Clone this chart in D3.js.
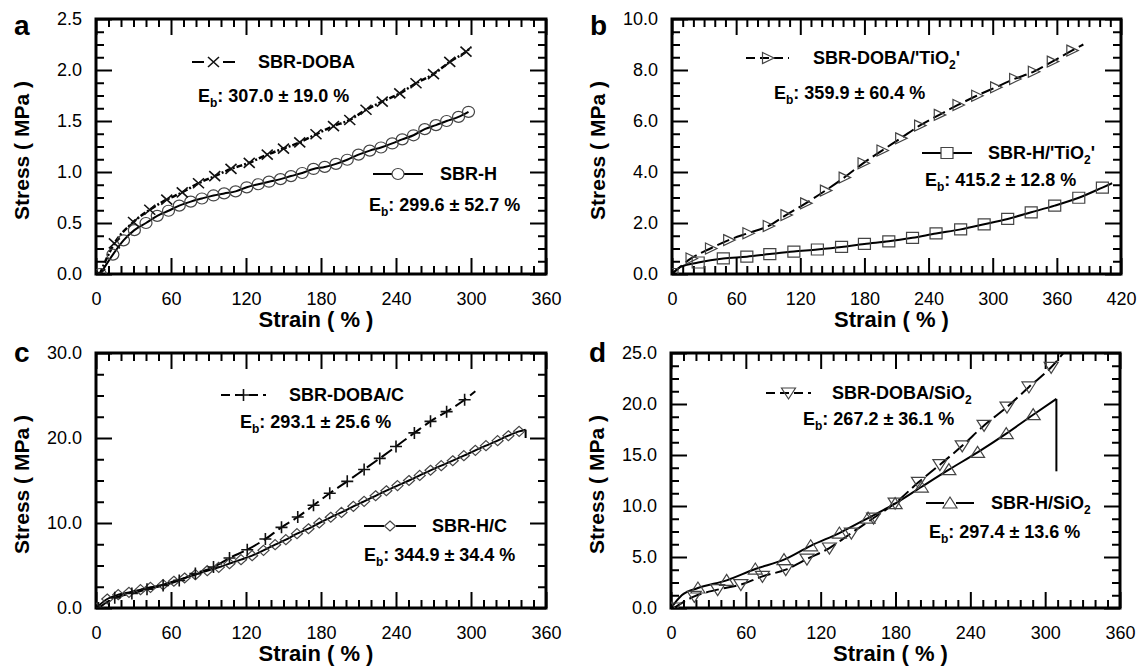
<!DOCTYPE html>
<html lang="en">
<head>
<meta charset="utf-8">
<title>Stress-strain curves</title>
<script src="https://cdn.jsdelivr.net/npm/d3@7/dist/d3.min.js"></script>
<style>
  body { margin: 0; background: #fff; }
  svg text { font-family: "Liberation Sans", Arial, sans-serif; fill: #000; }
</style>
</head>
<body>
<script>
var w = 1148, h = 671;

// [strain %, stress MPa, (0 = no marker)]
var dobaA = [[3,0],[14.7,0.30],[30,0.51],[43,0.63],[56.6,0.73],[69,0.80],[82,0.89],[95,0.96],[108,1.03],[122.6,1.09],[137,1.17],[150,1.23],[163,1.29],[176,1.37],[190,1.45],[203,1.51],[216,1.61],[229,1.69],[243,1.77],[256,1.87],[270,1.96],[283,2.08],[296,2.18],[300,2.22,0]];
var hA = [[3.4,0],[13.5,0.19],[22,0.33],[30.7,0.43],[40,0.50],[49,0.57],[58,0.62],[66.6,0.67],[75.8,0.71],[84.7,0.74],[94,0.77],[102.5,0.79],[111.7,0.81],[120.6,0.85],[129.8,0.88],[138.4,0.905],[147.6,0.93],[156,0.96],[165,0.99],[174,1.03],[183,1.05],[192,1.08],[201,1.12],[210,1.17],[219,1.21],[228,1.24],[237,1.28],[245,1.32],[254,1.36],[263,1.42],[272,1.46],[280.5,1.50],[290,1.54],[298,1.59]];

var dobaB = [[0,0,0],[17.8,0.61],[36,1.0],[53,1.33],[71,1.6],[90,1.88],[106.6,2.31],[125,2.77],[143.5,3.27],[161,3.78],[178.7,4.34],[196.4,4.84],[213.9,5.32],[231.6,5.82],[250,6.24],[267.5,6.63],[285,6.99],[302.7,7.32],[320.5,7.65],[338,7.93],[355.7,8.33],[374,8.76],[384.8,9.0,0]];
var hB = [[0,0],[8,0.28,0],[24.5,0.45],[48,0.61],[70,0.68],[91.5,0.78],[114,0.88],[136,0.96],[158.6,1.06],[180,1.18],[202.8,1.28],[225,1.42],[247,1.59],[270,1.75],[292,1.95],[314,2.16],[336,2.42],[358,2.68],[380.5,2.99],[402.6,3.39],[411.7,3.56,0]];

var dobaC = [[2,0],[15,1.2],[28.7,1.7],[40.8,2.2],[53.7,2.65],[66.6,3.25],[79.5,4.05],[94,4.82],[106.8,5.88],[121,6.86],[135.5,8.12],[148.4,9.49],[161.4,10.7],[174,12.08],[187,13.5],[201,14.9],[214.5,16.3],[227,17.6],[240,19.0],[254.7,20.6],[267.6,21.96],[280.5,23.1],[294.9,24.5],[303.5,25.5,0]];
var hC = [[0,0],[9,1.06],[17.8,1.57],[26.4,1.84],[35.6,2.16],[43.6,2.43],[53.7,2.75],[62.3,3.14],[70.9,3.53],[79.5,3.92],[89,4.39],[98.2,4.78],[106.8,5.22],[116,5.69],[124.9,6.16],[134,6.78],[143.3,7.45],[151.9,8.04],[160.8,8.75],[170,9.33],[178.6,10.0],[187.8,10.67],[196.4,11.25],[205.9,11.96],[214.5,12.55],[223.7,13.2],[232.3,13.8],[241.2,14.4],[250.4,15.0],[259,15.6],[267.6,16.2],[276.2,16.75],[285.4,17.33],[294.3,17.92],[303.5,18.55],[312,19.1],[321.3,19.69],[329.9,20.27],[338.5,20.78],[343.7,20.98,0]];
var dropC = [[343.7,20.98],[343.7,20.0]];

var dobaD = [[2.3,0],[18.7,1.14],[37.4,1.8],[56,2.29],[73.3,3.1],[92,3.76],[109,4.8],[127,5.88],[144.6,7.35],[162.4,8.82],[179.7,10.29],[198.4,12.32],[215.6,14.05],[233.5,15.9],[251,17.9],[269.4,19.7],[287,21.67],[304.8,23.6],[316,25.2,0]];
var hD = [[0,0],[8.6,1.25,0],[21.6,1.96],[44.6,2.71],[67.6,3.82],[90.6,4.74],[112,6.1],[135,7.35],[158,8.82],[179.7,10.23],[200.7,11.86],[222.8,13.56],[245.8,15.26],[268.8,17.1],[290.4,18.95],[309,20.5,0]];
var dropD = [[309,20.5],[309,13.4]];

var xMaxes = [360, 420, 360, 360];
var yMaxes = [2.5, 10, 30, 25];
var yMajor = [0.5, 2, 10, 5];
var letters = ["a", "b", "c", "d"];
var dobaNames = [{t:"SBR-DOBA"}, {t:"SBR-DOBA/'TiO", s:"2", a:"'"}, {t:"SBR-DOBA/C"}, {t:"SBR-DOBA/SiO", s:"2"}];
var hNames = [{t:"SBR-H"}, {t:"SBR-H/'TiO", s:"2", a:"'"}, {t:"SBR-H/C"}, {t:"SBR-H/SiO", s:"2"}];
var dobaEb = ["307.0 \u00b1 19.0 %", "359.9 \u00b1 60.4 %", "293.1 \u00b1 25.6 %", "267.2 \u00b1 36.1 %"];
var hEb = ["299.6 \u00b1 52.7 %", "415.2 \u00b1 12.8 %", "344.9 \u00b1 34.4 %", "297.4 \u00b1 13.6 %"];

var svg = d3.select("body").append("svg").attr("width", w).attr("height", h);

// layout of each panel, legend anchors in page pixels
var panels = [
  {x0:96, x1:546, y0:19, y1:274, doba:dobaA, h:hA, dm:"x", hm:"circle", dash:"6,2,2,2",
   lg:{dl:[192,235,62], dt:258, de:[198,96], hl:[373,423,174], ht:440, he:[369,205]}},
  {x0:672, x1:1121, y0:19, y1:274, doba:dobaB, h:hB, dm:"triR", hm:"square", dash:"13,5",
   lg:{dl:[746,789,58], dt:813, de:[774,93], hl:[922,972,153], ht:988, he:[925,180]}},
  {x0:96, x1:546, y0:353, y1:608, doba:dobaC, h:hC, dm:"plus", hm:"diamond", dash:"13,5", drop:dropC,
   lg:{dl:[221,266,395], dt:289, de:[240,422], hl:[364,416,526], ht:432, he:[364,555]}},
  {x0:671, x1:1120, y0:353, y1:608, doba:dobaD, h:hD, dm:"triDown", hm:"triUp", dash:"13,5", drop:dropD,
   lg:{dl:[766,811,393], dt:832, de:[803,419], hl:[926,974,503], ht:991, he:[929,532]}}
];

var markerPaths = {
  x: "M-5.5,-5L5.5,5M-5.5,5L5.5,-5",
  plus: "M-6,0H6M0,-6V6",
  diamond: "M0,-5L5.5,0L0,5L-5.5,0Z",
  square: "M-6,-5.5H6V5.5H-6Z",
  triR: "M-5,-5.5L6.5,0L-5,5.5Z",
  triDown: "M-7,-5H7L0,6Z",
  triUp: "M-7,5H7L0,-6Z"
};

function marker(g, type, cx, cy) {
  if (type == "circle") {
    g.append("ellipse").attr("cx", cx).attr("cy", cy).attr("rx", 6).attr("ry", 5.5)
      .attr("fill", "none").attr("stroke", "#444").attr("stroke-width", 1.2);
  } else {
    var dark = type == "x" || type == "plus";
    g.append("path").attr("d", markerPaths[type])
      .attr("transform", "translate(" + cx + "," + cy + ")")
      .attr("fill", "none").attr("stroke", dark ? "#111" : "#444")
      .attr("stroke-width", dark ? 1.6 : 1.2);
  }
}

function label(g, x, y, name) {
  var t = g.append("text").attr("x", x).attr("y", y).attr("font-size", 18).attr("font-weight", "bold");
  t.append("tspan").text(name.t);
  if (name.s) {
    t.append("tspan").attr("dy", 5).attr("font-size", 12).text(name.s);
    if (name.a) t.append("tspan").attr("dy", -5).text(name.a);
  }
}

function ebText(g, x, y, val) {
  var t = g.append("text").attr("x", x).attr("y", y).attr("font-size", 18).attr("font-weight", "bold");
  t.append("tspan").text("E");
  t.append("tspan").attr("dy", 5).attr("font-size", 12).text("b");
  t.append("tspan").attr("dy", -5).text(": " + val);
}

panels.forEach(function(p, i) {
  var x = d3.scaleLinear().domain([0, xMaxes[i]]).range([p.x0, p.x1]);
  var y = d3.scaleLinear().domain([0, yMaxes[i]]).range([p.y1, p.y0]);
  var g = svg.append("g");

  var clipId = "clip" + i;
  svg.append("clipPath").attr("id", clipId).append("rect")
    .attr("x", p.x0).attr("y", p.y0).attr("width", p.x1 - p.x0).attr("height", p.y1 - p.y0);

  var xMaj = d3.range(0, xMaxes[i] + 0.01, 60);
  var xMin = d3.range(0, xMaxes[i] + 0.01, 10).filter(function(v) { return v % 60 != 0; });
  var yMaj = d3.range(0, yMaxes[i] + 1e-6, yMajor[i]);
  var yMin = d3.range(0, yMaxes[i] + 1e-6, yMajor[i] / 4).filter(function(v) {
    return Math.abs(v / yMajor[i] - Math.round(v / yMajor[i])) > 1e-6;
  });

  function tidy(sel) {
    sel.select(".domain").remove();
    sel.selectAll("line").attr("stroke", "#000").attr("stroke-width", 2);
    sel.attr("font-size", 18).attr("font-family", "'Liberation Sans', Arial, sans-serif");
  }

  // bottom
  g.append("g").attr("transform", "translate(0," + p.y1 + ")")
    .call(d3.axisBottom(x).tickValues(xMaj).tickSize(-16).tickPadding(18).tickFormat(d3.format("d"))).call(tidy);
  g.append("g").attr("transform", "translate(0," + p.y1 + ")")
    .call(d3.axisBottom(x).tickValues(xMin).tickSize(-8).tickFormat("")).call(tidy);
  // top
  g.append("g").attr("transform", "translate(0," + p.y0 + ")")
    .call(d3.axisTop(x).tickValues(xMaj).tickSize(-16).tickFormat("")).call(tidy);
  g.append("g").attr("transform", "translate(0," + p.y0 + ")")
    .call(d3.axisTop(x).tickValues(xMin).tickSize(-8).tickFormat("")).call(tidy);
  // left
  g.append("g").attr("transform", "translate(" + p.x0 + ",0)")
    .call(d3.axisLeft(y).tickValues(yMaj).tickSize(-16).tickPadding(14).tickFormat(d3.format(".1f"))).call(tidy);
  g.append("g").attr("transform", "translate(" + p.x0 + ",0)")
    .call(d3.axisLeft(y).tickValues(yMin).tickSize(-8).tickFormat("")).call(tidy);
  // right
  g.append("g").attr("transform", "translate(" + p.x1 + ",0)")
    .call(d3.axisRight(y).tickValues(yMaj).tickSize(-16).tickFormat("")).call(tidy);
  g.append("g").attr("transform", "translate(" + p.x1 + ",0)")
    .call(d3.axisRight(y).tickValues(yMin).tickSize(-8).tickFormat("")).call(tidy);

  g.append("rect").attr("x", p.x0).attr("y", p.y0).attr("width", p.x1 - p.x0).attr("height", p.y1 - p.y0)
    .attr("fill", "none").attr("stroke", "#000").attr("stroke-width", 3);

  // curves
  var line = d3.line().x(function(d) { return x(d[0]); }).y(function(d) { return y(d[1]); })
    .curve(d3.curveMonotoneX);
  var lines = g.append("g").attr("clip-path", "url(#" + clipId + ")");
  lines.append("path").datum(p.h).attr("d", line)
    .attr("fill", "none").attr("stroke", "#000").attr("stroke-width", 2);
  lines.append("path").datum(p.doba).attr("d", line)
    .attr("fill", "none").attr("stroke", "#000").attr("stroke-width", i == 0 ? 2.5 : 2)
    .attr("stroke-dasharray", p.dash);
  if (p.drop) {
    lines.append("path").datum(p.drop).attr("d", d3.line().x(function(d) { return x(d[0]); }).y(function(d) { return y(d[1]); }))
      .attr("fill", "none").attr("stroke", "#000").attr("stroke-width", 2);
  }
  p.h.forEach(function(d) { if (d[2] !== 0) marker(lines, p.hm, x(d[0]), y(d[1])); });
  p.doba.forEach(function(d) { if (d[2] !== 0) marker(lines, p.dm, x(d[0]), y(d[1])); });

  // legend
  var lg = p.lg;
  g.append("line").attr("x1", lg.dl[0]).attr("x2", lg.dl[1]).attr("y1", lg.dl[2]).attr("y2", lg.dl[2])
    .attr("stroke", "#000").attr("stroke-width", 2).attr("stroke-dasharray", i == 0 ? "12,19" : "9,5");
  marker(g, p.dm, (lg.dl[0] + lg.dl[1]) / 2, lg.dl[2]);
  label(g, lg.dt, lg.dl[2] + 6, dobaNames[i]);
  ebText(g, lg.de[0], lg.de[1] + 6, dobaEb[i]);

  g.append("line").attr("x1", lg.hl[0]).attr("x2", lg.hl[1]).attr("y1", lg.hl[2]).attr("y2", lg.hl[2])
    .attr("stroke", "#000").attr("stroke-width", 2);
  var hmx = (lg.hl[0] + lg.hl[1]) / 2;
  g.append("rect").attr("x", hmx - 6).attr("y", lg.hl[2] - 6).attr("width", 12).attr("height", 12).attr("fill", "#fff");
  marker(g, p.hm, hmx, lg.hl[2]);
  label(g, lg.ht, lg.hl[2] + 6, hNames[i]);
  ebText(g, lg.he[0], lg.he[1] + 6, hEb[i]);

  // titles
  g.append("text").attr("x", p.x0 - 82).attr("y", i < 2 ? p.y0 + 16 : p.y0 + 9)
    .attr("font-size", 28).attr("font-weight", "bold").text(letters[i]);
  g.append("text").attr("transform", "translate(" + (p.x0 - 67) + "," + ((p.y0 + p.y1) / 2 + 4) + ") rotate(-90)")
    .attr("text-anchor", "middle").attr("font-size", 21).attr("font-weight", "bold").text("Stress ( MPa )");
  g.append("text").attr("x", (p.x0 + p.x1) / 2 - 5).attr("y", p.y1 + 53)
    .attr("text-anchor", "middle").attr("font-size", 22).attr("font-weight", "bold").text("Strain ( % )");
});
</script>
</body>
</html>
